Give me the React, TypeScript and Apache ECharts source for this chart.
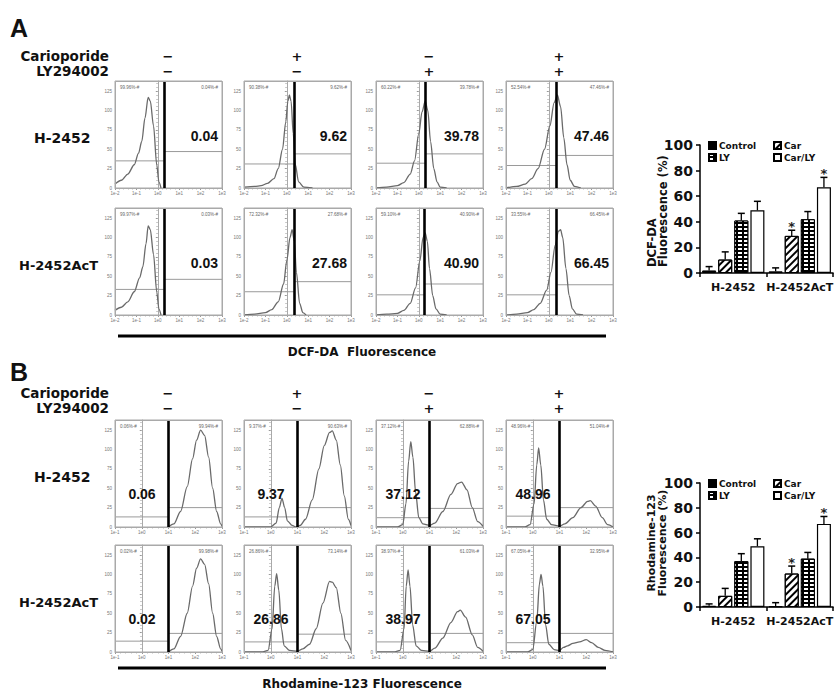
import React, { useEffect, useRef } from "react";
import * as echarts from "echarts";

// ---------------- data ----------------
const panelLetters = ["A", "B"];
const treatmentLabels = ["Carioporide", "LY294002"];
const carioporideSigns = ["−", "+", "−", "+"];
const lySigns = ["−", "−", "+", "+"];
const cellLines = ["H-2452", "H-2452AcT"];
const axisTitles = ["DCF-DA  Fluorescence", "Rhodamine-123 Fluorescence"];

const dcfTicksX = [-2, -1, 0, 1, 2, 3]; // exponents: 1e-2 ... 1e3
const rhoTicksX = [-1, 0, 1, 2, 3]; // exponents: 1e-1 ... 1e3
const countTicks = [0, 25, 50, 75, 100, 125];

// % of cells right of gate (DCF-DA) / left of gate (Rhodamine-123)
const dcfPercent = [
  [0.04, 9.62, 39.78, 47.46],
  [0.03, 27.68, 40.9, 66.45],
];
const rhoPercent = [
  [0.06, 9.37, 37.12, 48.96],
  [0.02, 26.86, 38.97, 67.05],
];
const dcfGates = [
  [0.28, 0.33, 0.29, 0.34],
  [0.28, 0.33, 0.27, 0.35],
];
const rhoGates = [
  [1, 1, 1, 1],
  [1, 1, 1, 1],
];
const dcfMarkerLeft = [
  [35, 31, 32, 29],
  [33, 30, 26, 26],
];
const dcfMarkerRight = [
  [47, 44, 44, 42],
  [46, 43, 40, 39],
];
const rhoMarkerLeft = [
  [13, 13, 12, 14],
  [14, 13, 13, 12],
];
const rhoMarkerRight = [
  [25, 25, 24, 25],
  [24, 23, 24, 24],
];

const dcfH2452Curves = [
  [[-2, 5], [-1.7, 10], [-1.4, 18], [-1.1, 30], [-0.9, 45], [-0.75, 60], [-0.6, 90], [-0.45, 117], [-0.35, 112], [-0.2, 80], [-0.05, 30], [0.05, 8], [0.15, 0]],
  [[-2, 1], [-1.5, 2], [-1.2, 3], [-0.9, 6], [-0.6, 12], [-0.4, 25], [-0.2, 50], [-0.05, 85], [0.05, 112], [0.12, 120], [0.2, 112], [0.3, 70], [0.4, 30], [0.55, 8], [0.8, 1], [1.2, 0]],
  [[-2, 0], [-1.5, 1], [-1, 3], [-0.7, 7], [-0.4, 18], [-0.2, 35], [0, 70], [0.15, 98], [0.3, 112], [0.42, 100], [0.55, 60], [0.7, 25], [0.85, 8], [1.0, 1], [1.3, 0]],
  [[-2, 0], [-1.5, 2], [-1.1, 5], [-0.8, 12], [-0.5, 25], [-0.2, 50], [0.05, 80], [0.25, 110], [0.4, 120], [0.55, 105], [0.7, 65], [0.85, 30], [1.0, 10], [1.2, 2], [1.5, 0]],
];
const dcfAcTCurves = [
  [[-2, 6], [-1.7, 10], [-1.4, 17], [-1.1, 30], [-0.85, 48], [-0.7, 62], [-0.55, 92], [-0.45, 115], [-0.35, 110], [-0.2, 78], [-0.05, 30], [0.05, 8], [0.15, 0]],
  [[-2, 0], [-1.5, 1], [-1, 3], [-0.7, 7], [-0.4, 17], [-0.15, 40], [0, 70], [0.15, 100], [0.25, 110], [0.35, 95], [0.45, 55], [0.6, 15], [0.75, 3], [0.9, 0]],
  [[-2, 0], [-1.5, 1], [-1, 2], [-0.7, 6], [-0.4, 15], [-0.15, 35], [0.05, 70], [0.2, 100], [0.3, 106], [0.4, 95], [0.5, 60], [0.65, 25], [0.8, 8], [1, 1], [1.3, 0]],
  [[-2, 0], [-1.5, 1], [-1, 3], [-0.7, 7], [-0.4, 15], [-0.1, 32], [0.1, 55], [0.3, 90], [0.45, 108], [0.55, 110], [0.65, 100], [0.8, 60], [0.95, 25], [1.1, 8], [1.3, 1], [1.6, 0]],
];
const rhoH2452Curves = [
  [[1, 0], [1.2, 4], [1.45, 20], [1.7, 52], [1.9, 88], [2.05, 112], [2.2, 125], [2.35, 118], [2.5, 90], [2.65, 50], [2.8, 20], [2.95, 4], [3, 1]],
  [[-1, 0], [0, 0], [0.2, 5], [0.32, 25], [0.42, 37], [0.52, 25], [0.62, 8], [0.8, 2], [0.95, 0], [1.1, 2], [1.3, 10], [1.55, 35], [1.8, 75], [2.0, 105], [2.2, 122], [2.3, 124], [2.45, 112], [2.6, 80], [2.75, 40], [2.9, 10], [3, 2]],
  [[-1, 0], [-0.2, 0], [0, 3], [0.12, 30], [0.22, 85], [0.3, 110], [0.38, 90], [0.48, 45], [0.6, 12], [0.75, 4], [1, 2], [1.2, 5], [1.5, 20], [1.8, 42], [2.05, 56], [2.2, 58], [2.4, 48], [2.6, 25], [2.8, 7], [3, 1]],
  [[-1, 0], [-0.3, 0], [-0.1, 3], [0.05, 30], [0.15, 80], [0.22, 102], [0.3, 80], [0.4, 35], [0.52, 10], [0.7, 3], [1, 1], [1.2, 4], [1.5, 12], [1.8, 25], [2.05, 33], [2.15, 34], [2.35, 27], [2.6, 12], [2.8, 3], [3, 0]],
];
const rhoAcTCurves = [
  [[1, 0], [1.2, 4], [1.45, 20], [1.7, 50], [1.9, 85], [2.05, 108], [2.2, 120], [2.35, 113], [2.5, 88], [2.65, 50], [2.8, 20], [2.95, 4], [3, 1]],
  [[-1, 0], [-0.3, 0], [-0.1, 2], [0.05, 30], [0.15, 85], [0.22, 101], [0.3, 80], [0.4, 30], [0.5, 8], [0.7, 2], [1, 1], [1.2, 4], [1.45, 10], [1.7, 30], [1.95, 63], [2.2, 91], [2.3, 90], [2.45, 83], [2.62, 50], [2.8, 15], [3, 2]],
  [[-1, 0], [-0.3, 0], [-0.1, 2], [0.05, 30], [0.13, 85], [0.2, 106], [0.27, 85], [0.37, 35], [0.5, 8], [0.7, 2], [1, 1], [1.2, 5], [1.5, 18], [1.8, 38], [2.05, 52], [2.15, 54], [2.35, 45], [2.6, 22], [2.8, 6], [3, 1]],
  [[-1, 0], [-0.2, 0], [0, 3], [0.15, 40], [0.25, 88], [0.31, 100], [0.38, 85], [0.48, 35], [0.6, 10], [0.8, 3], [1, 2], [1.15, 6], [1.3, 8], [1.5, 11], [1.75, 13], [2.0, 16], [2.2, 12], [2.45, 6], [2.7, 2], [3, 0]],
];

const barCategories = ["H-2452", "H-2452AcT"];
const treatments = ["Control", "Car", "LY", "Car/LY"];
const barTicks = [0, 20, 40, 60, 80, 100];
const dcfMeans = [[2, 1.3], [10.5, 29], [41, 42], [49, 67]];
const dcfErrors = [[3, 2.7], [6, 4.4], [5.6, 6], [7, 7.7]];
const rhoMeans = [[1, 0.5], [9, 27], [37, 39], [49, 67]];
const rhoErrors = [[1.5, 3], [6, 6], [6, 5], [6, 6]];
const significant = [[false, false], [false, true], [false, false], [false, true]];
const barAxisTitles = ["DCF-DA\nFluorescence (%)", "Rhodamine-123\nFluorescence (%)"];

// ---------------- layout ----------------
const COL_LEFT = [115, 244, 376, 506];
const HIST_W = 107;
const HIST_H = 107;
const ROW_TOP = [[81, 208], [420, 545]];
const Y_MAX = 138;
const BAR_W = 14;
const BAR_GAP = 0.15;
const BOLD = "'DejaVu Sans', 'Liberation Sans', sans-serif";
const ARIAL = "'Liberation Sans', Arial, sans-serif";
const INK = "#111";

function buildOption() {
  const grid: any[] = [];
  const xAxis: any[] = [];
  const yAxis: any[] = [];
  const series: any[] = [];
  const graphic: any[] = [];
  let k = 0;

  const txt = (x: number, y: number, text: string, size: number, opts: any = {}) => {
    graphic.push({
      type: "text",
      x,
      y,
      rotation: opts.rotation || 0,
      silent: true,
      z: 50,
      style: {
        text,
        fontSize: size,
        fontWeight: opts.weight || "bold",
        fontFamily: opts.family || BOLD,
        fill: opts.color || INK,
        align: opts.align || "left",
        verticalAlign: opts.valign || "middle",
        lineHeight: opts.lineHeight,
      },
    });
  };

  const addHist = (
    left: number,
    top: number,
    ticks: number[],
    curve: number[][],
    gate: number,
    hL: number,
    hR: number
  ) => {
    const xmin = ticks[0];
    const xmax = ticks[ticks.length - 1];
    grid.push({ left, top, width: HIST_W, height: HIST_H, show: true, borderColor: "#a9a9a9", borderWidth: 1 });
    graphic.push({
      type: "rect",
      silent: true,
      z: 40,
      shape: { x: left + 0.5, y: top + 0.5, width: HIST_W, height: HIST_H },
      style: { fill: "none", stroke: "#a9a9a9", lineWidth: 1 },
    });
    xAxis.push({
      type: "value",
      gridIndex: k,
      min: xmin,
      max: xmax,
      interval: 1,
      axisLine: { show: true, lineStyle: { color: "#a9a9a9" } },
      axisTick: { show: true, length: 2, lineStyle: { color: "#999" } },
      minorTick: { show: true, splitNumber: 5, length: 1.5, lineStyle: { color: "#bbb" } },
      splitLine: { show: false },
      axisLabel: { fontSize: 4.5, color: "#777", margin: 3, fontFamily: ARIAL, formatter: (v: number) => `1e${v}` },
    });
    yAxis.push({
      type: "value",
      gridIndex: k,
      min: 0,
      max: Y_MAX,
      interval: 25,
      axisLine: { show: true, lineStyle: { color: "#a9a9a9" } },
      axisTick: { show: true, length: 2, lineStyle: { color: "#999" } },
      minorTick: { show: true, splitNumber: 5, length: 1.5, lineStyle: { color: "#bbb" } },
      splitLine: { show: false },
      axisLabel: {
        fontSize: 4.5,
        color: "#777",
        margin: 3,
        fontFamily: ARIAL,
        formatter: (v: number) => (countTicks.includes(v) ? String(v) : ""),
      },
    });
    series.push({
      type: "line",
      xAxisIndex: k,
      yAxisIndex: k,
      data: curve,
      smooth: 0.3,
      smoothMonotone: "x",
      showSymbol: false,
      silent: true,
      lineStyle: { color: "#6a6a6a", width: 1.3 },
      markLine: {
        silent: true,
        symbol: ["none", "none"],
        label: { show: false },
        lineStyle: { color: "#000", width: 2.6, type: "solid" },
        data: [{ xAxis: gate }],
      },
      z: 3,
    });
    series.push({
      type: "line",
      xAxisIndex: k,
      yAxisIndex: k,
      data: [[xmin, hL], [gate, hL]],
      showSymbol: false,
      silent: true,
      lineStyle: { color: "#9a9a9a", width: 1 },
      z: 2,
    });
    series.push({
      type: "line",
      xAxisIndex: k,
      yAxisIndex: k,
      data: [[gate, hR], [xmax, hR]],
      showSymbol: false,
      silent: true,
      lineStyle: { color: "#9a9a9a", width: 1 },
      z: 2,
    });
    k++;
  };

  const panels = [
    { ticks: dcfTicksX, curves: [dcfH2452Curves, dcfAcTCurves], pct: dcfPercent, gates: dcfGates, hL: dcfMarkerLeft, hR: dcfMarkerRight, kind: "dcf" },
    { ticks: rhoTicksX, curves: [rhoH2452Curves, rhoAcTCurves], pct: rhoPercent, gates: rhoGates, hL: rhoMarkerLeft, hR: rhoMarkerRight, kind: "rho" },
  ];
  const panelTop = [0, 337];
  const letterY = [28, 372];

  panels.forEach((p, pi) => {
    const off = panelTop[pi];
    txt(10, letterY[pi], panelLetters[pi], 25, { family: ARIAL });
    txt(109, 56 + off, treatmentLabels[0], 13.5, { align: "right" });
    txt(109, 71 + off, treatmentLabels[1], 13.5, { align: "right" });
    for (let c = 0; c < 4; c++) {
      const cx = COL_LEFT[c] + 53;
      txt(cx, 56 + off, carioporideSigns[c], 13, { align: "center" });
      txt(cx, 71 + off, lySigns[c], 13, { align: "center" });
    }
    for (let r = 0; r < 2; r++) {
      const top = ROW_TOP[pi][r];
      if (r === 0) txt(34, top + 57, cellLines[r], 14);
      else txt(19, top + 57, cellLines[r], 13);
      for (let c = 0; c < 4; c++) {
        const left = COL_LEFT[c];
        addHist(left, top, p.ticks, p.curves[r][c], p.gates[r][c], p.hL[r][c], p.hR[r][c]);
        const v = p.pct[r][c];
        const leftPct = p.kind === "dcf" ? 100 - v : v;
        const rightPct = p.kind === "dcf" ? v : 100 - v;
        txt(left + 5, top + 6, `${leftPct.toFixed(2)}%-#`, 4.5, { weight: "normal", family: ARIAL, color: "#666" });
        txt(left + HIST_W - 4, top + 6, `${rightPct.toFixed(2)}%-#`, 4.5, { weight: "normal", family: ARIAL, color: "#666", align: "right" });
        if (p.kind === "dcf") {
          txt(left + HIST_W - 4, top + 55, v.toFixed(2), 14, { family: ARIAL, align: "right" });
        } else {
          txt(left + 27, top + 74, v.toFixed(2), 14, { family: ARIAL, align: "center" });
        }
      }
    }
    const lineY = pi === 0 ? 336 : 668;
    graphic.push({ type: "line", silent: true, shape: { x1: 118, y1: lineY, x2: 606, y2: lineY }, style: { stroke: "#000", lineWidth: 3 } });
    txt(362, lineY + 16, axisTitles[pi], 12, { align: "center" });
  });

  // ---------- bar charts ----------
  const barGrids = [
    { top: 145, height: 128, means: dcfMeans, errs: dcfErrors },
    { top: 483, height: 124, means: rhoMeans, errs: rhoErrors },
  ];
  const styles = [
    { color: "#000", borderColor: "#000", borderWidth: 1 },
    {
      color: "#fff",
      borderColor: "#000",
      borderWidth: 1,
      decal: { symbol: "rect", symbolSize: 1, color: "#000", dashArrayX: [1, 0], dashArrayY: [2, 3], rotation: -Math.PI / 4 },
    },
    {
      color: "#000",
      borderColor: "#000",
      borderWidth: 1,
      decal: { symbol: "rect", symbolSize: 1, color: "#fff", dashArrayX: [4, 1.5], dashArrayY: [1.6, 1.4], rotation: 0 },
    },
    { color: "#fff", borderColor: "#000", borderWidth: 1.2 },
  ];
  const legends: any[] = [];
  barGrids.forEach((b, bi) => {
    const gi = k;
    grid.push({ left: 700, top: b.top, width: 138, height: b.height });
    xAxis.push({
      type: "category",
      gridIndex: gi,
      data: barCategories,
      axisLine: { show: true, lineStyle: { color: "#000", width: 1.5 } },
      axisTick: { show: true, length: 4, lineStyle: { color: "#000", width: 1.5 } },
      axisLabel: { fontSize: 11, fontWeight: "bold", fontFamily: BOLD, color: INK, margin: 9, interval: 0 },
    });
    yAxis.push({
      type: "value",
      gridIndex: gi,
      min: 0,
      max: 100,
      interval: 20,
      axisLine: { show: true, lineStyle: { color: "#000", width: 1.5 } },
      axisTick: { show: true, length: 4, lineStyle: { color: "#000", width: 1.5 } },
      splitLine: { show: false },
      axisLabel: {
        fontSize: 14,
        fontWeight: "bold",
        fontFamily: BOLD,
        color: INK,
        margin: 7,
        formatter: (v: number) => (barTicks.includes(v) ? String(v) : ""),
      },
    });
    treatments.forEach((t, s) => {
      series.push({
        type: "bar",
        name: t,
        xAxisIndex: gi,
        yAxisIndex: gi,
        data: b.means[s],
        barWidth: BAR_W,
        barGap: `${BAR_GAP * 100}%`,
        itemStyle: styles[s],
        silent: true,
      });
    });
    const errData: number[][] = [];
    b.means.forEach((row, s) =>
      row.forEach((m, c) => errData.push([c, m, b.errs[s][c], s, significant[s][c] ? 1 : 0]))
    );
    series.push({
      type: "custom",
      xAxisIndex: gi,
      yAxisIndex: gi,
      z: 10,
      silent: true,
      data: errData,
      renderItem: (params: any, api: any) => {
        const c = api.value(0);
        const m = api.value(1);
        const e = api.value(2);
        const s = api.value(3);
        const star = api.value(4);
        const base = api.coord([c, m]);
        const top = api.coord([c, m + e]);
        const x = base[0] + (s - 1.5) * (BAR_W * (1 + BAR_GAP));
        const children: any[] = [
          { type: "line", shape: { x1: x, y1: base[1], x2: x, y2: top[1] }, style: { stroke: "#000", lineWidth: 1.3 } },
          { type: "line", shape: { x1: x - 3.5, y1: top[1], x2: x + 3.5, y2: top[1] }, style: { stroke: "#000", lineWidth: 1.5 } },
        ];
        if (star) {
          children.push({
            type: "text",
            style: { text: "*", x, y: top[1] + 3, align: "center", verticalAlign: "bottom", fontSize: 13, fontWeight: "bold", fontFamily: BOLD, fill: "#222" },
          });
        }
        return { type: "group", children };
      },
    });
    k++;
    const legTop = b.top - 4;
    const legBase = {
      orient: "vertical",
      top: legTop,
      itemWidth: 7,
      itemHeight: 7,
      itemGap: 3,
      padding: 0,
      icon: "rect",
      selectedMode: false,
      textStyle: { fontSize: 9, fontWeight: "bold", fontFamily: BOLD, color: INK, padding: [0, 0, 0, -2] },
    };
    legends.push({ ...legBase, left: 708, data: [treatments[0], treatments[2]] });
    legends.push({ ...legBase, left: 773, data: [treatments[1], treatments[3]] });
    if (bi === 0) {
      txt(657, 267, barAxisTitles[0], 11.5, { rotation: Math.PI / 2, align: "left", lineHeight: 11 });
    } else {
      txt(657, 543, barAxisTitles[1], 11, { rotation: Math.PI / 2, align: "center", lineHeight: 11 });
    }
  });

  return {
    animation: false,
    backgroundColor: "#fff",
    textStyle: { fontFamily: ARIAL },
    grid,
    xAxis,
    yAxis,
    series,
    legend: legends,
    graphic: { elements: graphic },
  };
}

export default function App() {
  const ref = useRef<HTMLDivElement>(null);
  useEffect(() => {
    if (!ref.current) return;
    const chart = echarts.init(ref.current, undefined, { renderer: "svg" });
    chart.setOption(buildOption() as any);
    return () => chart.dispose();
  }, []);
  return (
    <div
      ref={ref}
      style={{ position: "absolute", left: 0, top: 0, width: 835, height: 691, background: "#fff" }}
    />
  );
}
